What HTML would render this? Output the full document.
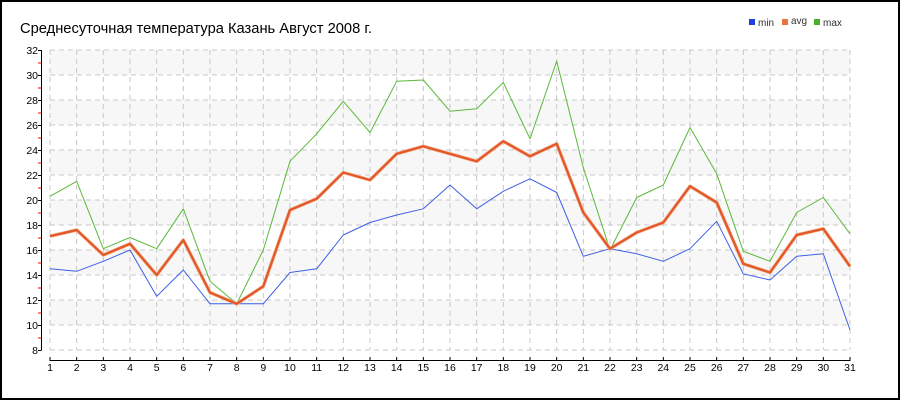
<!DOCTYPE html>
<html><head><meta charset="utf-8"><style>
html,body{margin:0;padding:0;background:#fff}
svg{display:block;font-family:"Liberation Sans",sans-serif}
</style></head><body>
<svg id="s" width="900" height="400" xmlns="http://www.w3.org/2000/svg">
<rect x="1" y="1" width="898" height="398" fill="#fff" stroke="#000" stroke-width="2"/>
<g id="bands"></g>
<g id="grid" stroke="#c8c8c8" stroke-dasharray="5,4" stroke-width="1"></g>
<text x="20" y="33" font-size="14.7" fill="#000">Среднесуточная температура Казань  Август 2008 г.</text>
<rect x="749" y="19" width="6" height="6" fill="#1f3fe0"/><text x="758" y="26" font-size="10" fill="#333">min</text>
<rect x="782" y="19" width="6" height="6" fill="#e8733a"/><text x="791" y="24" font-size="10" fill="#333">avg</text>
<rect x="814" y="19" width="6" height="6" fill="#4caf28"/><text x="823" y="26" font-size="10" fill="#333">max</text>
<g id="axes" stroke="#000" stroke-width="1"></g>
<g font-size="10.5" fill="#000" text-anchor="end">
<text x="38" y="54">32</text><text x="38" y="79">30</text><text x="38" y="104">28</text><text x="38" y="129">26</text>
<text x="38" y="154">24</text><text x="38" y="179">22</text><text x="38" y="204">20</text><text x="38" y="229">18</text>
<text x="38" y="254">16</text><text x="38" y="279">14</text><text x="38" y="304">12</text><text x="38" y="329">10</text><text x="38" y="354">8</text>
</g>
<g font-size="10.5" fill="#000" text-anchor="middle">
<text x="50" y="371">1</text><text x="76.7" y="371">2</text><text x="103.3" y="371">3</text><text x="130" y="371">4</text>
<text x="156.7" y="371">5</text><text x="183.3" y="371">6</text><text x="210" y="371">7</text><text x="236.7" y="371">8</text>
<text x="263.3" y="371">9</text><text x="290" y="371">10</text><text x="316.7" y="371">11</text><text x="343.3" y="371">12</text>
<text x="370" y="371">13</text><text x="396.7" y="371">14</text><text x="423.3" y="371">15</text><text x="450" y="371">16</text>
<text x="476.7" y="371">17</text><text x="503.3" y="371">18</text><text x="530" y="371">19</text><text x="556.7" y="371">20</text>
<text x="583.3" y="371">21</text><text x="610" y="371">22</text><text x="636.7" y="371">23</text><text x="663.3" y="371">24</text>
<text x="690" y="371">25</text><text x="716.7" y="371">26</text><text x="743.3" y="371">27</text><text x="770" y="371">28</text>
<text x="796.7" y="371">29</text><text x="823.3" y="371">30</text><text x="850" y="371">31</text>
</g>
<g id="lines" fill="none" stroke-linejoin="round"></g>
</svg>
<script>
var NS="http://www.w3.org/2000/svg";
function el(p,t,a){var e=document.createElementNS(NS,t);for(var k in a)e.setAttribute(k,a[k]);document.getElementById(p).appendChild(e);return e;}
function X(i){return 50+(i-1)*800/30;}
function Y(v){return 50+(32-v)*12.5;}
for(var v=30;v>=10;v-=4)el("bands","rect",{x:50,y:Y(v+2),width:800,height:25,fill:"#f7f7f7"});
for(var v=8;v<=32;v+=2)el("grid","line",{x1:50,x2:850,y1:Y(v),y2:Y(v)});
for(var i=1;i<=31;i++)el("grid","line",{x1:X(i),x2:X(i),y1:50,y2:350});
el("axes","line",{x1:41.5,x2:41.5,y1:50,y2:350});
for(var v=8;v<=32;v+=2)el("axes","line",{x1:38,x2:41.5,y1:Y(v)+.5,y2:Y(v)+.5});
for(var v=9;v<=31;v+=2)el("axes","line",{x1:38,x2:41,y1:Y(v)+.5,y2:Y(v)+.5,stroke:"#e00"});
el("axes","line",{x1:50,x2:850,y1:360.5,y2:360.5});
for(var i=1;i<=31;i++)el("axes","line",{x1:X(i),x2:X(i),y1:357,y2:361});
var mn=[14.5,14.3,15.1,16.0,12.3,14.4,11.7,11.7,11.7,14.2,14.5,17.2,18.2,18.8,19.3,21.2,19.3,20.7,21.7,20.6,15.5,16.1,15.7,15.1,16.1,18.3,14.1,13.6,15.5,15.7,9.6];
var av=[17.1,17.6,15.6,16.5,14.0,16.8,12.6,11.7,13.1,19.2,20.1,22.2,21.6,23.7,24.3,23.7,23.1,24.7,23.5,24.5,19.0,16.1,17.4,18.2,21.1,19.8,14.9,14.2,17.2,17.7,14.7];
var mx=[20.3,21.5,16.1,17.0,16.1,19.3,13.5,11.7,16.0,23.1,25.3,27.9,25.4,29.5,29.6,27.1,27.3,29.4,24.9,31.1,22.6,16.0,20.2,21.2,25.8,22.1,15.9,15.1,19.0,20.2,17.3];
function pts(a){return a.map(function(v,i){return X(i+1).toFixed(1)+","+Y(v).toFixed(1)}).join(" ");}
el("lines","polyline",{points:pts(mx),stroke:"#5cb83a","stroke-width":1});
el("lines","polyline",{points:pts(mn),stroke:"#3d5fe6","stroke-width":1});
el("lines","polyline",{points:pts(av),stroke:"#f3b08a","stroke-width":3.5});
el("lines","polyline",{points:pts(av),stroke:"#e2582a","stroke-width":2.2});
</script>
</body></html>
